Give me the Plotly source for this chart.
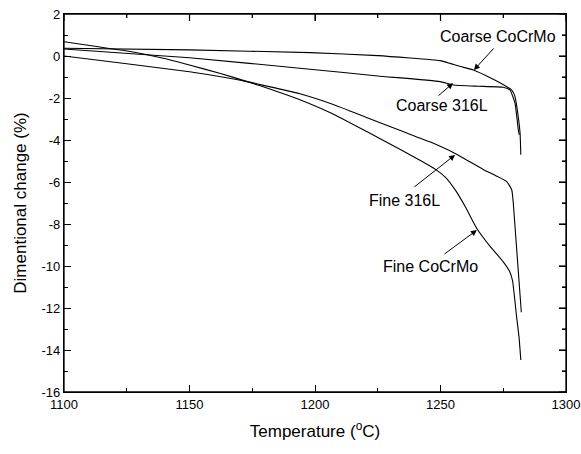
import plotly.graph_objects as go

# ---- data ----
fine_cocrmo_T = [1100, 1113, 1127, 1140, 1150, 1162, 1173, 1184, 1194, 1207, 1220.6, 1234, 1242, 1248,
                 1252, 1256, 1260, 1264.4, 1270, 1275, 1277.5, 1278.7, 1280.3, 1281.3, 1282]
fine_cocrmo_y = [0.68, 0.45, 0.2, -0.12, -0.43, -0.82, -1.22, -1.65, -2.08, -2.75, -3.6, -4.45, -4.98, -5.4,
                 -5.78, -6.4, -7.2, -8.2, -9.1, -9.8, -10.25, -10.7, -12.4, -13.4, -14.48]

fine_316l_T = [1100, 1125, 1150, 1173, 1194, 1207, 1220, 1234, 1246, 1256, 1260.4, 1267, 1272,
               1276.4, 1278.4, 1279, 1282.2]
fine_316l_y = [0.0, -0.37, -0.75, -1.22, -1.8, -2.3, -2.9, -3.55, -4.1, -4.65, -4.95, -5.4, -5.7,
               -5.98, -6.38, -7.0, -12.2]

coarse_cocrmo_T = [1100, 1150, 1198, 1225, 1249.8, 1253.8, 1258, 1263.1, 1270, 1276.4, 1278.4, 1279.6,
                   1280.4, 1281.2, 1281.7, 1282]
coarse_cocrmo_y = [0.37, 0.29, 0.16, 0.02, -0.22, -0.35, -0.5, -0.67, -1.05, -1.46, -1.62, -1.9,
                   -2.4, -3.1, -3.68, -4.7]

coarse_316l_T = [1100, 1150, 1198, 1225, 1249.8, 1255.1, 1265, 1275, 1277.7, 1279.7, 1281, 1281.4]
coarse_316l_y = [0.33, -0.08, -0.63, -0.95, -1.22, -1.38, -1.44, -1.49, -1.62, -2.25, -3.52, -3.76]

y_tick_vals = [2, 0, -2, -4, -6, -8, -10, -12, -14, -16]
y_tick_text = ["2", "0", "-2", "-4", "-6", "-8", "-10", "-12", "-14", "-16"]
x_tick_vals = [1100, 1150, 1200, 1250, 1300]
x_minor_vals = [1125, 1175, 1225, 1275]
y_minor_vals = [1, -1, -3, -5, -7, -9, -11, -13, -15]
x_range = [1100, 1300]
y_range = [-16, 2]

# annotation: label, arrow tip (T, y), arrow tail (T, y), text position (T, y)
labels = ["Coarse CoCrMo", "Coarse 316L", "Fine 316L", "Fine CoCrMo"]
tip_T = [1263.3, 1255.0, 1255.8, 1264.5]
tip_y = [-0.67, -1.29, -4.71, -8.29]
tail_T = [1271.7, 1248.6, 1239.0, 1251.0]
tail_y = [0.43, -1.95, -6.29, -9.48]
text_T = [1272.9, 1250.6, 1235.7, 1245.9]
text_y = [0.95, -2.38, -6.86, -10.03]

W, H = 581, 454
M = dict(l=64, r=15, t=14, b=62)
plot_w = W - M["l"] - M["r"]
plot_h = H - M["t"] - M["b"]
major_len, minor_len = 7, 4

fig = go.Figure()
series = [
    (fine_cocrmo_T, fine_cocrmo_y),
    (fine_316l_T, fine_316l_y),
    (coarse_cocrmo_T, coarse_cocrmo_y),
    (coarse_316l_T, coarse_316l_y),
]
for t, y in series:
    fig.add_trace(go.Scatter(x=t, y=y, mode="lines",
                             line=dict(color="black", width=1.1, shape="spline", smoothing=0.4),
                             showlegend=False, hoverinfo="skip"))

font_family = "Liberation Sans, Arial"
for i in range(len(labels)):
    fig.add_annotation(x=tip_T[i], y=tip_y[i], ax=tail_T[i], ay=tail_y[i], axref="x", ayref="y",
                       text="", showarrow=True, arrowhead=2, arrowsize=1.2, arrowwidth=1,
                       arrowcolor="black")
    fig.add_annotation(x=text_T[i], y=text_y[i], text=labels[i], showarrow=False,
                       font=dict(family=font_family, size=16, color="black"),
                       bgcolor="white", borderpad=0)

# frame (top and right sides) and the mirrored inside ticks
tick_line = dict(color="black", width=1.2)
fig.add_shape(type="rect", xref="paper", yref="paper", x0=0, x1=1, y0=0, y1=1,
              line=dict(color="black", width=1.3), layer="above")
for v in x_tick_vals:
    fig.add_shape(type="line", xref="x", yref="paper", x0=v, x1=v, y0=1, y1=1 - major_len / plot_h,
                  line=tick_line)
for v in x_minor_vals:
    fig.add_shape(type="line", xref="x", yref="paper", x0=v, x1=v, y0=1, y1=1 - minor_len / plot_h,
                  line=tick_line)
for v in y_tick_vals:
    fig.add_shape(type="line", xref="paper", yref="y", y0=v, y1=v, x0=1, x1=1 - major_len / plot_w,
                  line=tick_line)
for v in y_minor_vals:
    fig.add_shape(type="line", xref="paper", yref="y", y0=v, y1=v, x0=1, x1=1 - minor_len / plot_w,
                  line=tick_line)

axis_common = dict(showline=True, linecolor="black", linewidth=1.3, mirror="ticks",
                   ticks="inside", ticklen=major_len, tickwidth=1.2, tickcolor="black",
                   showgrid=False, zeroline=False, automargin=False, ticklabeloverflow="allow",
                   tickfont=dict(family=font_family, size=13, color="black"))

fig.update_layout(
    width=W, height=H, margin=M,
    paper_bgcolor="white", plot_bgcolor="white",
    xaxis=dict(range=x_range, tickvals=x_tick_vals,
               minor=dict(ticks="inside", ticklen=minor_len, tickvals=x_minor_vals,
                          tickcolor="black", tickwidth=1.2),
               title=dict(text="Temperature (<sup>o</sup>C)", standoff=14,
                          font=dict(family=font_family, size=17, color="black")),
               **axis_common),
    yaxis=dict(range=y_range, tickvals=y_tick_vals, ticktext=y_tick_text,
               minor=dict(ticks="inside", ticklen=minor_len, tickvals=y_minor_vals,
                          tickcolor="black", tickwidth=1.2),
               title=dict(text="Dimentional change (%)", standoff=10,
                          font=dict(family=font_family, size=17, color="black")),
               **axis_common),
)

# remove the page's default body margin so the figure fills the window exactly
fig.write_html("out.html", config={"displayModeBar": False},
               post_script="document.body.style.margin='0';document.body.style.overflow='hidden';")
